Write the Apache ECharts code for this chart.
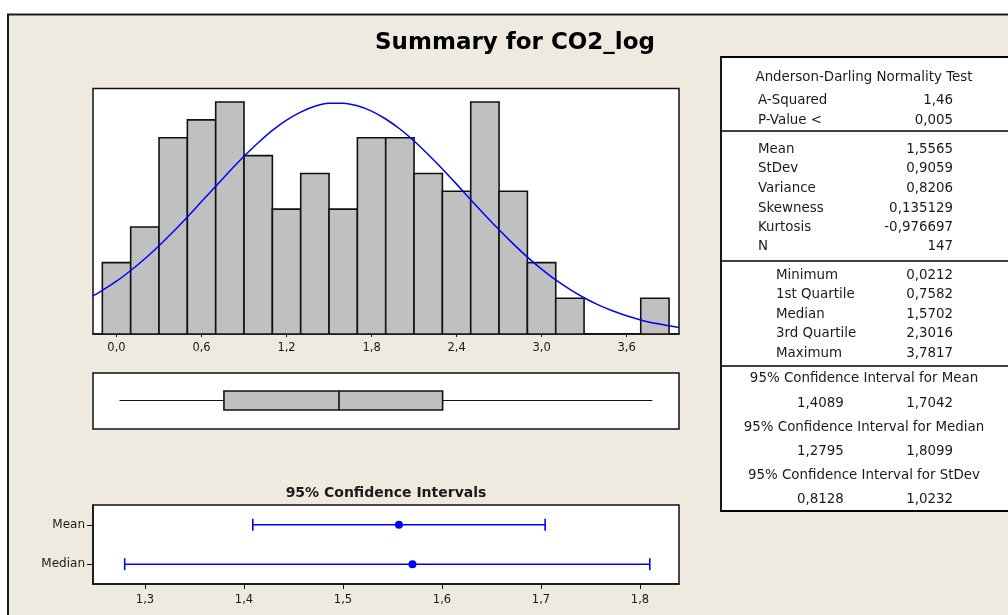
<!DOCTYPE html>
<html><head><meta charset="utf-8">
<script src="https://cdn.jsdelivr.net/npm/echarts@6/dist/echarts.min.js"></script>
<style>html,body{margin:0;padding:0;background:#fff}#c{width:1008px;height:615px}</style>
</head><body><div id="c"></div>
<script>
// ---------- data ----------
const binCenters = [0.0,0.2,0.4,0.6,0.8,1.0,1.2,1.4,1.6,1.8,2.0,2.2,2.4,2.6,2.8,3.0,3.2,3.4,3.6,3.8];
const binCounts  = [4,6,11,12,13,10,7,9,7,11,11,9,8,13,8,4,2,0,0,2];
const binWidth = 0.2;
const histTickValues = [0,0.6,1.2,1.8,2.4,3.0,3.6];
const histTickLabels = ['0,0','0,6','1,2','1,8','2,4','3,0','3,6'];
// fitted normal curve (counts scale)
const curveX = [-0.17,-0.1,0.0,0.1,0.2,0.3,0.4,0.5,0.6,0.7,0.8,0.9,1.0,1.1,1.2,1.3,1.4,1.5,1.6,1.7,1.8,1.9,2.0,2.1,2.2,2.3,2.4,2.5,2.6,2.7,2.8,2.9,3.0,3.1,3.2,3.3,3.4,3.5,3.6,3.7,3.8,3.9,3.97];
const curveY = [2.12,2.45,2.96,3.56,4.22,4.95,5.73,6.56,7.42,8.28,9.14,9.96,10.72,11.41,11.99,12.44,12.76,12.93,12.94,12.79,12.49,12.05,11.49,10.82,10.06,9.25,8.40,7.53,6.67,5.84,5.05,4.31,3.64,3.03,2.50,2.03,1.63,1.30,1.02,0.79,0.60,0.46,0.37];
const boxStats = [0.0212, 0.7582, 1.5702, 2.3016, 3.7817]; // min, Q1, median, Q3, max
const ciCategories = ['Median','Mean'];
const ciLow    = [1.2795, 1.4089];
const ciHigh   = [1.8099, 1.7042];
const ciCenter = [1.5702, 1.5565];
const ciTickValues = [1.3,1.4,1.5,1.6,1.7,1.8];
const ciTickLabels = ['1,3','1,4','1,5','1,6','1,7','1,8'];
const mainTitle = 'Summary for CO2_log';
const ciTitle = '95% Confidence Intervals';
const adTitle = 'Anderson-Darling Normality Test';
const adLabels = ['A-Squared','P-Value <'];
const adValues = ['1,46','0,005'];
const momLabels = ['Mean','StDev','Variance','Skewness','Kurtosis','N'];
const momValues = ['1,5565','0,9059','0,8206','0,135129','-0,976697','147'];
const qLabels = ['Minimum','1st Quartile','Median','3rd Quartile','Maximum'];
const qValues = ['0,0212','0,7582','1,5702','2,3016','3,7817'];
const ciTableTitles = ['95% Confidence Interval for Mean','95% Confidence Interval for Median','95% Confidence Interval for StDev'];
const ciTableLow  = ['1,4089','1,2795','0,8128'];
const ciTableHigh = ['1,7042','1,8099','1,0232'];

// ---------- chart ----------
const FONT = '"DejaVu Sans", Verdana, sans-serif';
const TXT = '#1a1a1a';
const BG = '#EEEAE0';
function lookup(vals, labels){
  return v => { const i = vals.findIndex(t => Math.abs(t - v) < 1e-6); return i >= 0 ? labels[i] : ''; };
}

const chart = echarts.init(document.getElementById('c'), null, {renderer:'canvas'});

// graphics: background frame, titles, table
const g = [];
g.push({type:'rect', z:-10, silent:true, shape:{x:8, y:14.5, width:1100, height:700}, style:{fill:BG, stroke:'#1a1a1a', lineWidth:2}});
g.push({type:'text', x:515, y:43, style:{text:mainTitle, font:'bold 23px '+FONT, fill:'#000', textAlign:'center', textVerticalAlign:'middle'}});
g.push({type:'text', x:386, y:493, style:{text:ciTitle, font:'bold 14px '+FONT, fill:'#1a1a1a', textAlign:'center', textVerticalAlign:'middle'}});
// table
const TL = 721, TT = 57, TB = 511;
g.push({type:'rect', shape:{x:TL, y:TT, width:400, height:TB-TT}, style:{fill:'#fff', stroke:'#000', lineWidth:1.8}});
[131, 261, 366].forEach(y => g.push({type:'line', shape:{x1:TL, y1:y, x2:1010, y2:y}, style:{stroke:'#000', lineWidth:1.5}}));
const tfont = '13.4px ' + FONT;
function txt(s, x, y, align){ g.push({type:'text', x:x, y:y, style:{text:s, font:tfont, fill:TXT, textAlign:align, textVerticalAlign:'middle'}}); }
const tc = 864, labX = 758, labX3 = 776, valR = 953, lowX = 797;
txt(adTitle, tc, 78, 'center');
[101,121].forEach((y,i) => { txt(adLabels[i], labX, y, 'left'); txt(adValues[i], valR, y, 'right'); });
[150,169,189,209,228,247].forEach((y,i) => { txt(momLabels[i], labX, y, 'left'); txt(momValues[i], valR, y, 'right'); });
[276,295,315,334,354].forEach((y,i) => { txt(qLabels[i], labX3, y, 'left'); txt(qValues[i], valR, y, 'right'); });
[379,428,476].forEach((y,i) => { txt(ciTableTitles[i], tc, y, 'center'); });
[404,452,500].forEach((y,i) => { txt(ciTableLow[i], lowX, y, 'left'); txt(ciTableHigh[i], valR, y, 'right'); });

const axisLab = {fontFamily:FONT, fontSize:11.5, color:TXT};

const option = {
  animation:false,
  backgroundColor:'#fff',
  graphic:g,
  grid:[
    {left:93, top:88.5, width:586, height:245.5, show:true, backgroundColor:'#fff', borderColor:'#111', borderWidth:1.5},
    {left:93, top:373, width:586, height:56, show:true, backgroundColor:'#fff', borderColor:'#111', borderWidth:1.5},
    {left:93, top:505, width:586, height:79, show:true, backgroundColor:'#fff', borderColor:'#111', borderWidth:1.5}
  ],
  xAxis:[
    {gridIndex:0, type:'value', min:-0.166, max:3.97, splitLine:{show:false},
     axisLine:{show:true, onZero:false, lineStyle:{color:'#111', width:1.5}},
     axisTick:{show:true, length:3, customValues:histTickValues, lineStyle:{color:'#111'}},
     axisLabel:Object.assign({customValues:histTickValues, formatter:lookup(histTickValues, histTickLabels), margin:8}, axisLab)},
    {gridIndex:1, type:'value', min:-0.166, max:3.97, show:false, splitLine:{show:false}},
    {gridIndex:2, type:'value', min:1.2475, max:1.8394, splitLine:{show:false},
     axisLine:{show:true, onZero:false, lineStyle:{color:'#111', width:1.5}},
     axisTick:{show:true, length:5, customValues:ciTickValues, lineStyle:{color:'#111'}},
     axisLabel:Object.assign({customValues:ciTickValues, formatter:lookup(ciTickValues, ciTickLabels), margin:10}, axisLab)}
  ],
  yAxis:[
    {gridIndex:0, type:'value', min:0, max:13.76, show:false, splitLine:{show:false}},
    {gridIndex:1, type:'value', min:0, max:1, show:false, splitLine:{show:false}},
    {gridIndex:2, type:'category', data:ciCategories, boundaryGap:true,
     axisLine:{show:true, lineStyle:{color:'#111', width:1.5}},
     axisTick:{show:true, alignWithLabel:true, length:6, lineStyle:{color:'#111'}},
     axisLabel:Object.assign({margin:8}, axisLab, {fontSize:12})}
  ],
  series:[
    {type:'custom', xAxisIndex:0, yAxisIndex:0, clip:true,
     data:binCenters.map((c,i) => [c, binCounts[i]]),
     encode:{x:0, y:1},
     renderItem:(params, api) => {
       const c = api.value(0), n = api.value(1);
       const p0 = api.coord([c - binWidth/2, n]);
       const p1 = api.coord([c + binWidth/2, 0]);
       return {type:'rect', shape:{x:p0[0], y:p0[1], width:p1[0]-p0[0], height:p1[1]-p0[1]},
               style:{fill:'#C0C0C0', stroke:'#111', lineWidth:1.6}};
     }},
    {type:'line', xAxisIndex:0, yAxisIndex:0, data:curveX.map((x,i) => [x, curveY[i]]),
     smooth:0.3, showSymbol:false, symbol:'none', clip:true, lineStyle:{color:'#0000FF', width:1.5}, z:5},
    {type:'custom', xAxisIndex:1, yAxisIndex:1,
     data:[boxStats], encode:{x:[0,1,2,3,4]},
     renderItem:(params, api) => {
       const v = [0,1,2,3,4].map(k => api.value(k));
       const p = v.map(x => api.coord([x, 0.5]));
       const yc = Math.round(p[0][1]) - 0.5, hh = 9.5;
       return {type:'group', children:[
         {type:'line', shape:{x1:p[0][0], y1:yc, x2:p[1][0], y2:yc}, style:{stroke:'#111', lineWidth:1}},
         {type:'line', shape:{x1:p[3][0], y1:yc, x2:p[4][0], y2:yc}, style:{stroke:'#111', lineWidth:1}},
         {type:'rect', shape:{x:p[1][0], y:yc-hh, width:p[3][0]-p[1][0], height:2*hh}, style:{fill:'#C0C0C0', stroke:'#111', lineWidth:1.6}},
         {type:'line', shape:{x1:p[2][0], y1:yc-hh, x2:p[2][0], y2:yc+hh}, style:{stroke:'#111', lineWidth:1.6}}
       ]};
     }},
    {type:'custom', xAxisIndex:2, yAxisIndex:2,
     data:ciCategories.map((c,i) => [ciLow[i], ciHigh[i], ciCenter[i], i]),
     encode:{x:[0,1,2], y:3},
     renderItem:(params, api) => {
       const idx = api.value(3);
       const a = api.coord([api.value(0), idx]);
       const b = api.coord([api.value(1), idx]);
       const m = api.coord([api.value(2), idx]);
       const y = a[1], ch = 6;
       const st = {stroke:'#0000FF', lineWidth:1.6};
       return {type:'group', children:[
         {type:'line', shape:{x1:a[0], y1:y, x2:b[0], y2:y}, style:st},
         {type:'line', shape:{x1:a[0], y1:y-ch, x2:a[0], y2:y+ch}, style:st},
         {type:'line', shape:{x1:b[0], y1:y-ch, x2:b[0], y2:y+ch}, style:st},
         {type:'circle', shape:{cx:m[0], cy:y, r:4}, style:{fill:'#0000FF'}}
       ]};
     }}
  ]
};
chart.setOption(option);
</script>
</body></html>
